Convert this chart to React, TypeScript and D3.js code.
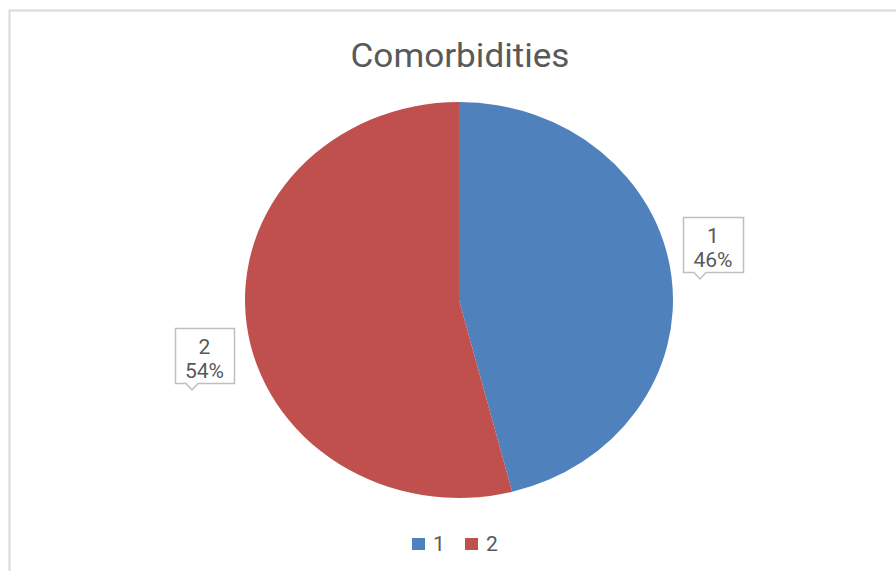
import React from "react";
import * as d3 from "d3";

const categories = ["1", "2"];
const values = [46, 54];
const colors = ["#4F81BD", "#C0504D"];
const title = "Comorbidities";

const W = 896;
const H = 571;
const SX = 214 / 198;

function T(props: { x: number; y: number; size: number; anchor?: string; children: React.ReactNode }) {
  return (
    <text
      transform={`translate(${props.x},${props.y}) scale(${SX},1)`}
      textAnchor={props.anchor || "middle"}
      fontSize={props.size}
      fill="#595959"
    >
      {props.children}
    </text>
  );
}

export default function App() {
  const cx = 459;
  const cy = 300;
  const rx = 214;
  const ry = 198;
  const total = d3.sum(values);
  const pie = d3.pie<number>().sort(null).value((d) => d);
  const arcs = pie(values);
  const arc = d3.arc<d3.PieArcDatum<number>>().innerRadius(0).outerRadius(ry);
  const pct = (v: number) => d3.format(".0%")(v / total);

  const boxes = [
    { x: 683, y: 217, w: 60, h: 55, tipX: 700, tipY: 279 },
    { x: 175, y: 328, w: 59, h: 55, tipX: 192, tipY: 390 },
  ];

  const font = "Roboto, 'Noto Sans', sans-serif";

  return (
    <svg
      width={W}
      height={H}
      style={{ position: "absolute", left: 0, top: 0, background: "#fff" }}
      fontFamily={font}
    >
      <rect x={0} y={0} width={W} height={H} fill="#fff" />
      <path d={`M9.5,${H} V10.5 H${W}`} fill="none" stroke="#D9D9D9" strokeWidth={2} />
      <T x={cx + 1} y={67} size={32.5}>
        {title}
      </T>
      <g transform={`translate(${cx},${cy}) scale(${rx / ry},1)`}>
        {arcs.map((a, i) => (
          <path key={i} d={arc(a) || ""} fill={colors[i]} />
        ))}
      </g>
      {boxes.map((b, i) => {
        const px = b.tipX;
        const d = `M${b.x + 0.5},${b.y + 0.5} H${b.x + b.w + 0.5} V${b.y + b.h + 0.5} H${px + 6} L${px},${b.tipY} L${px - 6},${b.y + b.h + 0.5} H${b.x + 0.5} Z`;
        return (
          <g key={i}>
            <path d={d} fill="#fff" stroke="#BFBFBF" strokeWidth={1.5} />
            <T x={b.x + b.w / 2} y={b.y + 26} size={19.5}>
              {categories[i]}
            </T>
            <T x={b.x + b.w / 2} y={b.y + 50} size={19.5}>
              {pct(values[i])}
            </T>
          </g>
        );
      })}
      {categories.map((c, i) => {
        const lx = 412 + i * 53;
        return (
          <g key={c}>
            <rect x={lx} y={538} width={13} height={12} fill={colors[i]} />
            <T x={lx + 21} y={551} size={19.5} anchor="start">
              {c}
            </T>
          </g>
        );
      })}
    </svg>
  );
}
